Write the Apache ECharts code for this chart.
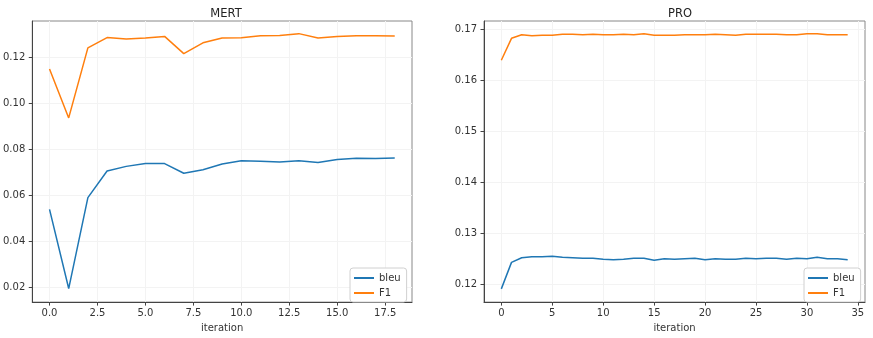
<!DOCTYPE html>
<html>
<head>
<meta charset="utf-8">
<script src="https://cdn.jsdelivr.net/npm/echarts@6/dist/echarts.min.js"></script>
<style>
  html, body { margin: 0; padding: 0; background: #fff; }
  #chart { width: 873px; height: 338px; }
</style>
</head>
<body>
<div id="chart"></div>
<script>
// values
var mertBleu = [0.0538, 0.0193, 0.0589, 0.0705, 0.0725, 0.0737, 0.0737, 0.0695, 0.0710, 0.0735,
                0.0749, 0.0747, 0.0744, 0.0749, 0.0742, 0.0755, 0.0760, 0.0759, 0.0761];
var mertF1 = [0.1149, 0.0936, 0.1241, 0.1286, 0.1280, 0.1284, 0.1291, 0.1216, 0.1263, 0.1284,
              0.1285, 0.1294, 0.1295, 0.1303, 0.1284, 0.1291, 0.1294, 0.1294, 0.1293];
var proBleu = [0.1191, 0.1243, 0.1252, 0.1254, 0.1254, 0.1255, 0.1253, 0.1252, 0.1251, 0.1251,
               0.1249, 0.1248, 0.1249, 0.1251, 0.1251, 0.1247, 0.1250, 0.1249, 0.1250, 0.1251,
               0.1248, 0.1250, 0.1249, 0.1249, 0.1251, 0.1250, 0.1251, 0.1251, 0.1249, 0.1251,
               0.1250, 0.1253, 0.1250, 0.1250, 0.1248];
var proF1 = [0.1640, 0.1683, 0.1690, 0.1688, 0.1689, 0.1689, 0.1691, 0.1691, 0.1690, 0.1691,
             0.1690, 0.1690, 0.1691, 0.1690, 0.1692, 0.1689, 0.1689, 0.1689, 0.1690, 0.1690,
             0.1690, 0.1691, 0.1690, 0.1689, 0.1691, 0.1691, 0.1691, 0.1691, 0.1690, 0.1690,
             0.1692, 0.1692, 0.1690, 0.1690, 0.1690];

var mertXTicks = [0, 2.5, 5, 7.5, 10, 12.5, 15, 17.5];
var mertYTicks = [0.02, 0.04, 0.06, 0.08, 0.10, 0.12];
var proXTicks = [0, 5, 10, 15, 20, 25, 30, 35];
var proYTicks = [0.12, 0.13, 0.14, 0.15, 0.16, 0.17];

var seriesNames = ['bleu', 'F1'];
var colors = ['#1f77b4', '#ff7f0e'];

function pairs(arr) {
  return arr.map(function (v, i) { return [i, v]; });
}

var font = 'DejaVu Sans';

function xAxis(idx, min, max, ticks, digits) {
  return {
    type: 'value', gridIndex: idx, min: min, max: max,
    name: 'iteration', nameLocation: 'middle', nameGap: 19,
    nameTextStyle: { fontFamily: font, fontSize: 10, color: '#333' },
    axisLine: { onZero: false, lineStyle: { color: '#444', width: 1 } },
    axisTick: { show: true, length: 3.5, lineStyle: { color: '#444' }, customValues: ticks },
    axisLabel: {
      customValues: ticks, margin: 6, fontFamily: font, fontSize: 10, color: '#333',
      formatter: function (v) { return v.toFixed(digits); }
    },
    splitLine: { show: true, lineStyle: { color: '#f3f3f3', width: 1 } }
  };
}

function yAxis(idx, min, max, ticks) {
  return {
    type: 'value', gridIndex: idx, min: min, max: max,
    axisLine: { show: true, onZero: false, lineStyle: { color: '#444', width: 1 } },
    axisTick: { show: true, length: 3.5, lineStyle: { color: '#444' }, customValues: ticks },
    axisLabel: {
      customValues: ticks, margin: 7, fontFamily: font, fontSize: 10, color: '#333',
      formatter: function (v) { return v.toFixed(2); }
    },
    splitLine: { show: true, lineStyle: { color: '#f3f3f3', width: 1 } }
  };
}

function legend(left) {
  return {
    data: seriesNames, orient: 'vertical', left: left, top: 268,
    itemWidth: 20, itemHeight: 2, itemGap: 5, icon: 'rect',
    padding: [5, 6, 4, 4],
    borderColor: '#d0d0d0', borderWidth: 1, borderRadius: 3,
    backgroundColor: '#fff',
    textStyle: { fontFamily: font, fontSize: 10, color: '#333' }
  };
}

function line(name, data, x, y, color) {
  return {
    name: name, type: 'line', xAxisIndex: x, yAxisIndex: y,
    data: pairs(data), symbol: 'none', smooth: false, animation: false,
    lineStyle: { color: color, width: 1.5 }, itemStyle: { color: color }
  };
}

var chart = echarts.init(document.getElementById('chart'));
chart.setOption({
  backgroundColor: '#fff',
  animation: false,
  title: [
    { text: 'MERT', left: 221, top: 3, textAlign: 'center',
      textStyle: { fontFamily: font, fontSize: 11.5, fontWeight: 'normal', color: '#222' } },
    { text: 'PRO', left: 675, top: 3, textAlign: 'center',
      textStyle: { fontFamily: font, fontSize: 11.5, fontWeight: 'normal', color: '#222' } }
  ],
  legend: [legend(350), legend(804)],
  grid: [
    { left: 30, right: 461, top: 21, bottom: 32, show: true, borderColor: '#888', borderWidth: 1 },
    { left: 484, right: 8, top: 21, bottom: 32, show: true, borderColor: '#888', borderWidth: 1 }
  ],
  xAxis: [
    xAxis(0, -0.9, 18.9, mertXTicks, 1),
    xAxis(1, -1.7, 35.7, proXTicks, 0)
  ],
  yAxis: [
    yAxis(0, 0.0134, 0.1358, mertYTicks),
    yAxis(1, 0.1165, 0.1717, proYTicks)
  ],
  series: [
    line('bleu', mertBleu, 0, 0, colors[0]),
    line('F1', mertF1, 0, 0, colors[1]),
    line('bleu', proBleu, 1, 1, colors[0]),
    line('F1', proF1, 1, 1, colors[1])
  ]
});
</script>
</body>
</html>
